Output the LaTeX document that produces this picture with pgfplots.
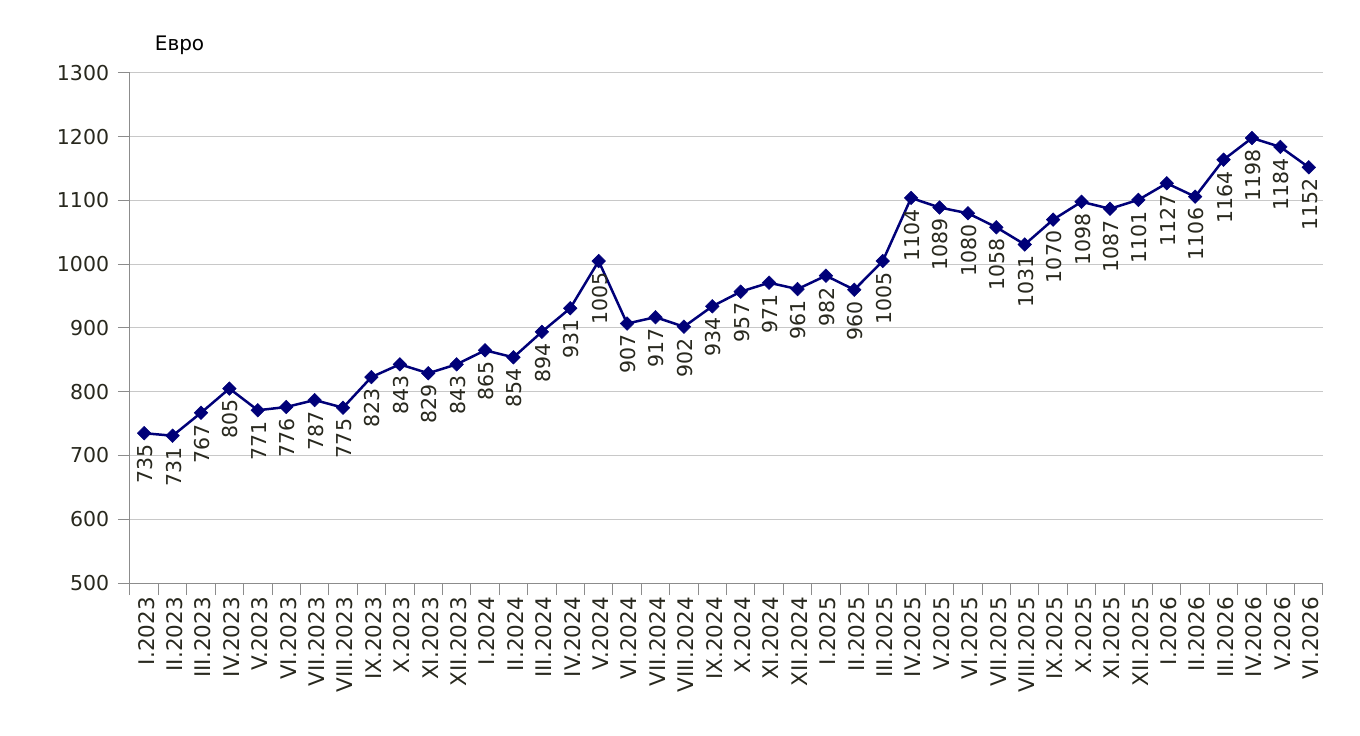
\documentclass[border=0pt]{standalone}
\usepackage{fontspec}
\setmainfont{DejaVu Sans}
\usepackage{pgfplots}
\pgfplotsset{compat=1.18}
\definecolor{navyline}{RGB}{0,0,120}
\definecolor{gridc}{RGB}{200,200,200}
\definecolor{axc}{RGB}{140,140,140}
\definecolor{txt}{RGB}{40,40,30}
\pgfplotstableread{
x y
0 735
1 731
2 767
3 805
4 771
5 776
6 787
7 775
8 823
9 843
10 829
11 843
12 865
13 854
14 894
15 931
16 1005
17 907
18 917
19 902
20 934
21 957
22 971
23 961
24 982
25 960
26 1005
27 1104
28 1089
29 1080
30 1058
31 1031
32 1070
33 1098
34 1087
35 1101
36 1127
37 1106
38 1164
39 1198
40 1184
41 1152
}\datatable
\begin{document}
\fontsize{20pt}{24pt}\selectfont
\begin{tikzpicture}[x=1pt,y=1pt]
\useasboundingbox (-130,-153) rectangle (1230,583);
\begin{axis}[
  at={(0,0)}, anchor=south west,
  scale only axis, width=1193pt, height=510pt,
  xmin=-0.5, xmax=41.5, ymin=500, ymax=1300,
  ytick={500,600,...,1300},
  xtick=data,
  xticklabels={I.2023,II.2023,III.2023,IV.2023,V.2023,VI.2023,VII.2023,VIII.2023,IX.2023,X.2023,XI.2023,XII.2023,
    I.2024,II.2024,III.2024,IV.2024,V.2024,VI.2024,VII.2024,VIII.2024,IX.2024,X.2024,XI.2024,XII.2024,
    I.2025,II.2025,III.2025,IV.2025,V.2025,VI.2025,VII.2025,VIII.2025,IX.2025,X.2025,XI.2025,XII.2025,
    I.2026,II.2026,III.2026,IV.2026,V.2026,VI.2026},
  minor xtick={-0.5,0.5,...,41.5},
  axis lines=left,
  axis line style={draw=axc, line width=1pt, -},
  ymajorgrids, grid style={draw=gridc, line width=1pt},
  tick align=outside,
  major tick length=12pt, minor tick length=12pt,
  y tick style={draw=axc, line width=1pt},
  x tick style={draw=none},
  minor x tick style={draw=axc, line width=1pt},
  /pgf/number format/assume math mode=true,
  /pgf/number format/1000 sep={},
  yticklabel style={font=\fontsize{20.5pt}{24pt}\selectfont, text=txt, xshift=-2pt},
  xticklabel style={font=\fontsize{21.5pt}{24pt}\selectfont, text=txt, rotate=90, anchor=east, inner sep=2pt, yshift=-2pt},
  clip=false,
]
\addplot[draw=navyline, line width=2.5pt, mark=square*, mark size=4.8pt,
  mark options={fill=navyline, draw=navyline, line width=0.5pt, rotate=45},
  nodes near coords, point meta=y,
  every node near coord/.append style={font=\fontsize{20.5pt}{24pt}\selectfont, text=txt, yshift=-10pt, xshift=1pt, rotate=90, anchor=east, inner sep=1pt}
] table[x=x, y=y] {\datatable};
\node[anchor=base west, font=\fontsize{20pt}{24pt}\selectfont, text=black] at (rel axis cs:0,1) [xshift=18pt, yshift=22pt] {Евро};
\end{axis}
\end{tikzpicture}
\end{document}
